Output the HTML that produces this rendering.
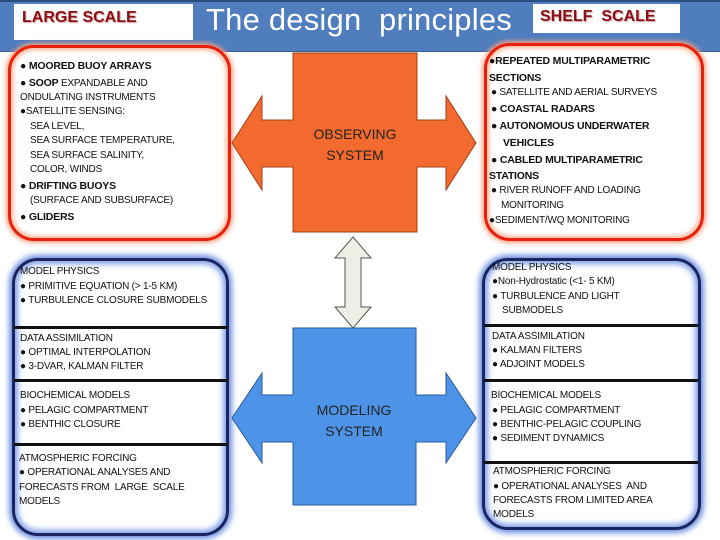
<!DOCTYPE html>
<html><head><meta charset="utf-8"><style>
body{margin:0;width:720px;height:540px;overflow:hidden;background:#fff;position:relative;font-family:"Liberation Sans",sans-serif}
.a{position:absolute;white-space:nowrap}
.t{position:absolute;white-space:nowrap;font-size:10px;line-height:12px;color:#111;letter-spacing:-0.2px}
.b{font-weight:bold;font-size:10.5px}
.red{position:absolute;border:3px solid #e8200c;border-radius:26px;box-shadow:0 0 5px 2px #f5a080, inset 0 0 5px 2px #f7b090;background:#fff}
.blue{position:absolute;border:3px solid #1a2560;border-radius:26px;box-shadow:0 0 6px 3px #6d8fe0, inset 0 0 6px 3px #7fa0ea;background:#fff}
.hl{position:absolute;height:3px;background:#111}
</style></head><body>
<div class="a" style="left:0;top:0;width:720px;height:52px;background:#4f7dbd;border-top:2px solid #2c4d80;border-bottom:1px solid #3a5f95;box-sizing:border-box"></div>
<div class="a" style="left:14px;top:4px;width:179px;height:36px;background:#fff"></div>
<div class="a" style="left:22px;top:9px;font-size:16px;font-weight:bold;color:#8a1016;text-shadow:1px 1px 1px #d0a0a0">LARGE SCALE</div>
<div class="a" style="left:533px;top:4px;width:147px;height:29px;background:#fff"></div>
<div class="a" style="left:540px;top:8px;font-size:16px;font-weight:bold;color:#8a1016;text-shadow:1px 1px 1px #d0a0a0">SHELF&nbsp; SCALE</div>
<div class="a" style="left:206px;top:2px;font-size:31px;color:#fff;letter-spacing:0.2px">The design&nbsp; principles</div>

<div class="red" style="left:8px;top:45px;width:217px;height:190px"></div>
<div class="red" style="left:484px;top:43px;width:214px;height:192px"></div>
<div class="blue" style="left:12px;top:258px;width:211px;height:272px"></div>
<div class="blue" style="left:482px;top:258px;width:213px;height:266px"></div>
<div class="hl" style="left:14px;top:326px;width:214px"></div>
<div class="hl" style="left:14px;top:379px;width:214px"></div>
<div class="hl" style="left:14px;top:443px;width:214px"></div>
<div class="hl" style="left:484px;top:324px;width:214px"></div>
<div class="hl" style="left:484px;top:379px;width:214px"></div>
<div class="hl" style="left:484px;top:461px;width:214px"></div>

<svg class="a" style="left:0;top:0" width="720" height="540">
<polygon points="293,53 417,53 417,120 446,120 446,96 476,143 446,190 446,167 417,167 417,232 293,232 293,167 262,167 262,190 232,143 262,96 262,120 293,120" fill="#f26a2e" stroke="#a04018" stroke-width="1"/>
<polygon points="353,237 371,258 361,258 361,307 371,307 353,328 335,307 345,307 345,258 335,258" fill="#eeeee6" stroke="#555" stroke-width="1"/>
<polygon points="293,328 416,328 416,395 446,395 446,373 476,418 446,463 446,442 416,442 416,505 293,505 293,442 262,442 262,463 232,418 262,373 262,395 293,395" fill="#4d94e8" stroke="#2a5a9a" stroke-width="1"/>
<text x="355" y="139" font-size="14" text-anchor="middle" fill="#222" font-family="Liberation Sans">OBSERVING</text>
<text x="355" y="160" font-size="14" text-anchor="middle" fill="#222" font-family="Liberation Sans">SYSTEM</text>
<text x="354" y="415" font-size="14" text-anchor="middle" fill="#222" font-family="Liberation Sans">MODELING</text>
<text x="354" y="436" font-size="14" text-anchor="middle" fill="#222" font-family="Liberation Sans">SYSTEM</text>
</svg>

<div class="t b" style="left:20px;top:60px">● MOORED BUOY ARRAYS</div>
<div class="t" style="left:20px;top:77px"><b style="font-size:10.5px">● SOOP</b> EXPANDABLE AND</div>
<div class="t" style="left:20px;top:92px">ONDULATING INSTRUMENTS</div>
<div class="t" style="left:20px;top:106px">●SATELLITE SENSING:</div>
<div class="t" style="left:30px;top:121px">SEA LEVEL,</div>
<div class="t" style="left:30px;top:135px">SEA SURFACE TEMPERATURE,</div>
<div class="t" style="left:30px;top:150px">SEA SURFACE SALINITY,</div>
<div class="t" style="left:30px;top:164px">COLOR, WINDS</div>
<div class="t b" style="left:20px;top:180px">● DRIFTING BUOYS</div>
<div class="t" style="left:30px;top:195px">(SURFACE AND SUBSURFACE)</div>
<div class="t b" style="left:20px;top:211px">● GLIDERS</div>

<div class="t b" style="left:489px;top:55px">●REPEATED MULTIPARAMETRIC</div>
<div class="t b" style="left:489px;top:72px">SECTIONS</div>
<div class="t" style="left:491px;top:87px">● SATELLITE AND AERIAL SURVEYS</div>
<div class="t b" style="left:491px;top:103px">● COASTAL RADARS</div>
<div class="t b" style="left:491px;top:120px">● AUTONOMOUS UNDERWATER</div>
<div class="t b" style="left:503px;top:137px">VEHICLES</div>
<div class="t b" style="left:491px;top:154px">● CABLED MULTIPARAMETRIC</div>
<div class="t b" style="left:489px;top:170px">STATIONS</div>
<div class="t" style="left:491px;top:185px">● RIVER RUNOFF AND LOADING</div>
<div class="t" style="left:501px;top:200px">MONITORING</div>
<div class="t" style="left:489px;top:215px">●SEDIMENT/WQ MONITORING</div>

<div class="t" style="left:20px;top:266px">MODEL PHYSICS</div>
<div class="t" style="left:20px;top:281px">● PRIMITIVE EQUATION (&gt; 1-5 KM)</div>
<div class="t" style="left:20px;top:295px">● TURBULENCE CLOSURE SUBMODELS</div>
<div class="t" style="left:20px;top:333px">DATA ASSIMILATION</div>
<div class="t" style="left:20px;top:347px">● OPTIMAL INTERPOLATION</div>
<div class="t" style="left:20px;top:361px">● 3-DVAR, KALMAN FILTER</div>
<div class="t" style="left:20px;top:390px">BIOCHEMICAL MODELS</div>
<div class="t" style="left:20px;top:405px">● PELAGIC COMPARTMENT</div>
<div class="t" style="left:20px;top:419px">● BENTHIC CLOSURE</div>
<div class="t" style="left:19px;top:453px">ATMOSPHERIC FORCING</div>
<div class="t" style="left:19px;top:467px">● OPERATIONAL ANALYSES AND</div>
<div class="t" style="left:19px;top:482px">FORECASTS FROM&nbsp; LARGE&nbsp; SCALE</div>
<div class="t" style="left:19px;top:496px">MODELS</div>

<div class="t" style="left:492px;top:262px">MODEL PHYSICS</div>
<div class="t" style="left:492px;top:276px">●Non-Hydrostatic (&lt;1- 5 KM)</div>
<div class="t" style="left:492px;top:291px">● TURBULENCE AND LIGHT</div>
<div class="t" style="left:502px;top:305px">SUBMODELS</div>
<div class="t" style="left:492px;top:331px">DATA ASSIMILATION</div>
<div class="t" style="left:492px;top:345px">● KALMAN FILTERS</div>
<div class="t" style="left:492px;top:359px">● ADJOINT MODELS</div>
<div class="t" style="left:491px;top:390px">BIOCHEMICAL MODELS</div>
<div class="t" style="left:492px;top:405px">● PELAGIC COMPARTMENT</div>
<div class="t" style="left:492px;top:419px">● BENTHIC-PELAGIC COUPLING</div>
<div class="t" style="left:492px;top:433px">● SEDIMENT DYNAMICS</div>
<div class="t" style="left:493px;top:466px">ATMOSPHERIC FORCING</div>
<div class="t" style="left:493px;top:481px">● OPERATIONAL ANALYSES&nbsp; AND</div>
<div class="t" style="left:493px;top:495px">FORECASTS FROM LIMITED AREA</div>
<div class="t" style="left:493px;top:509px">MODELS</div>
</body></html>
